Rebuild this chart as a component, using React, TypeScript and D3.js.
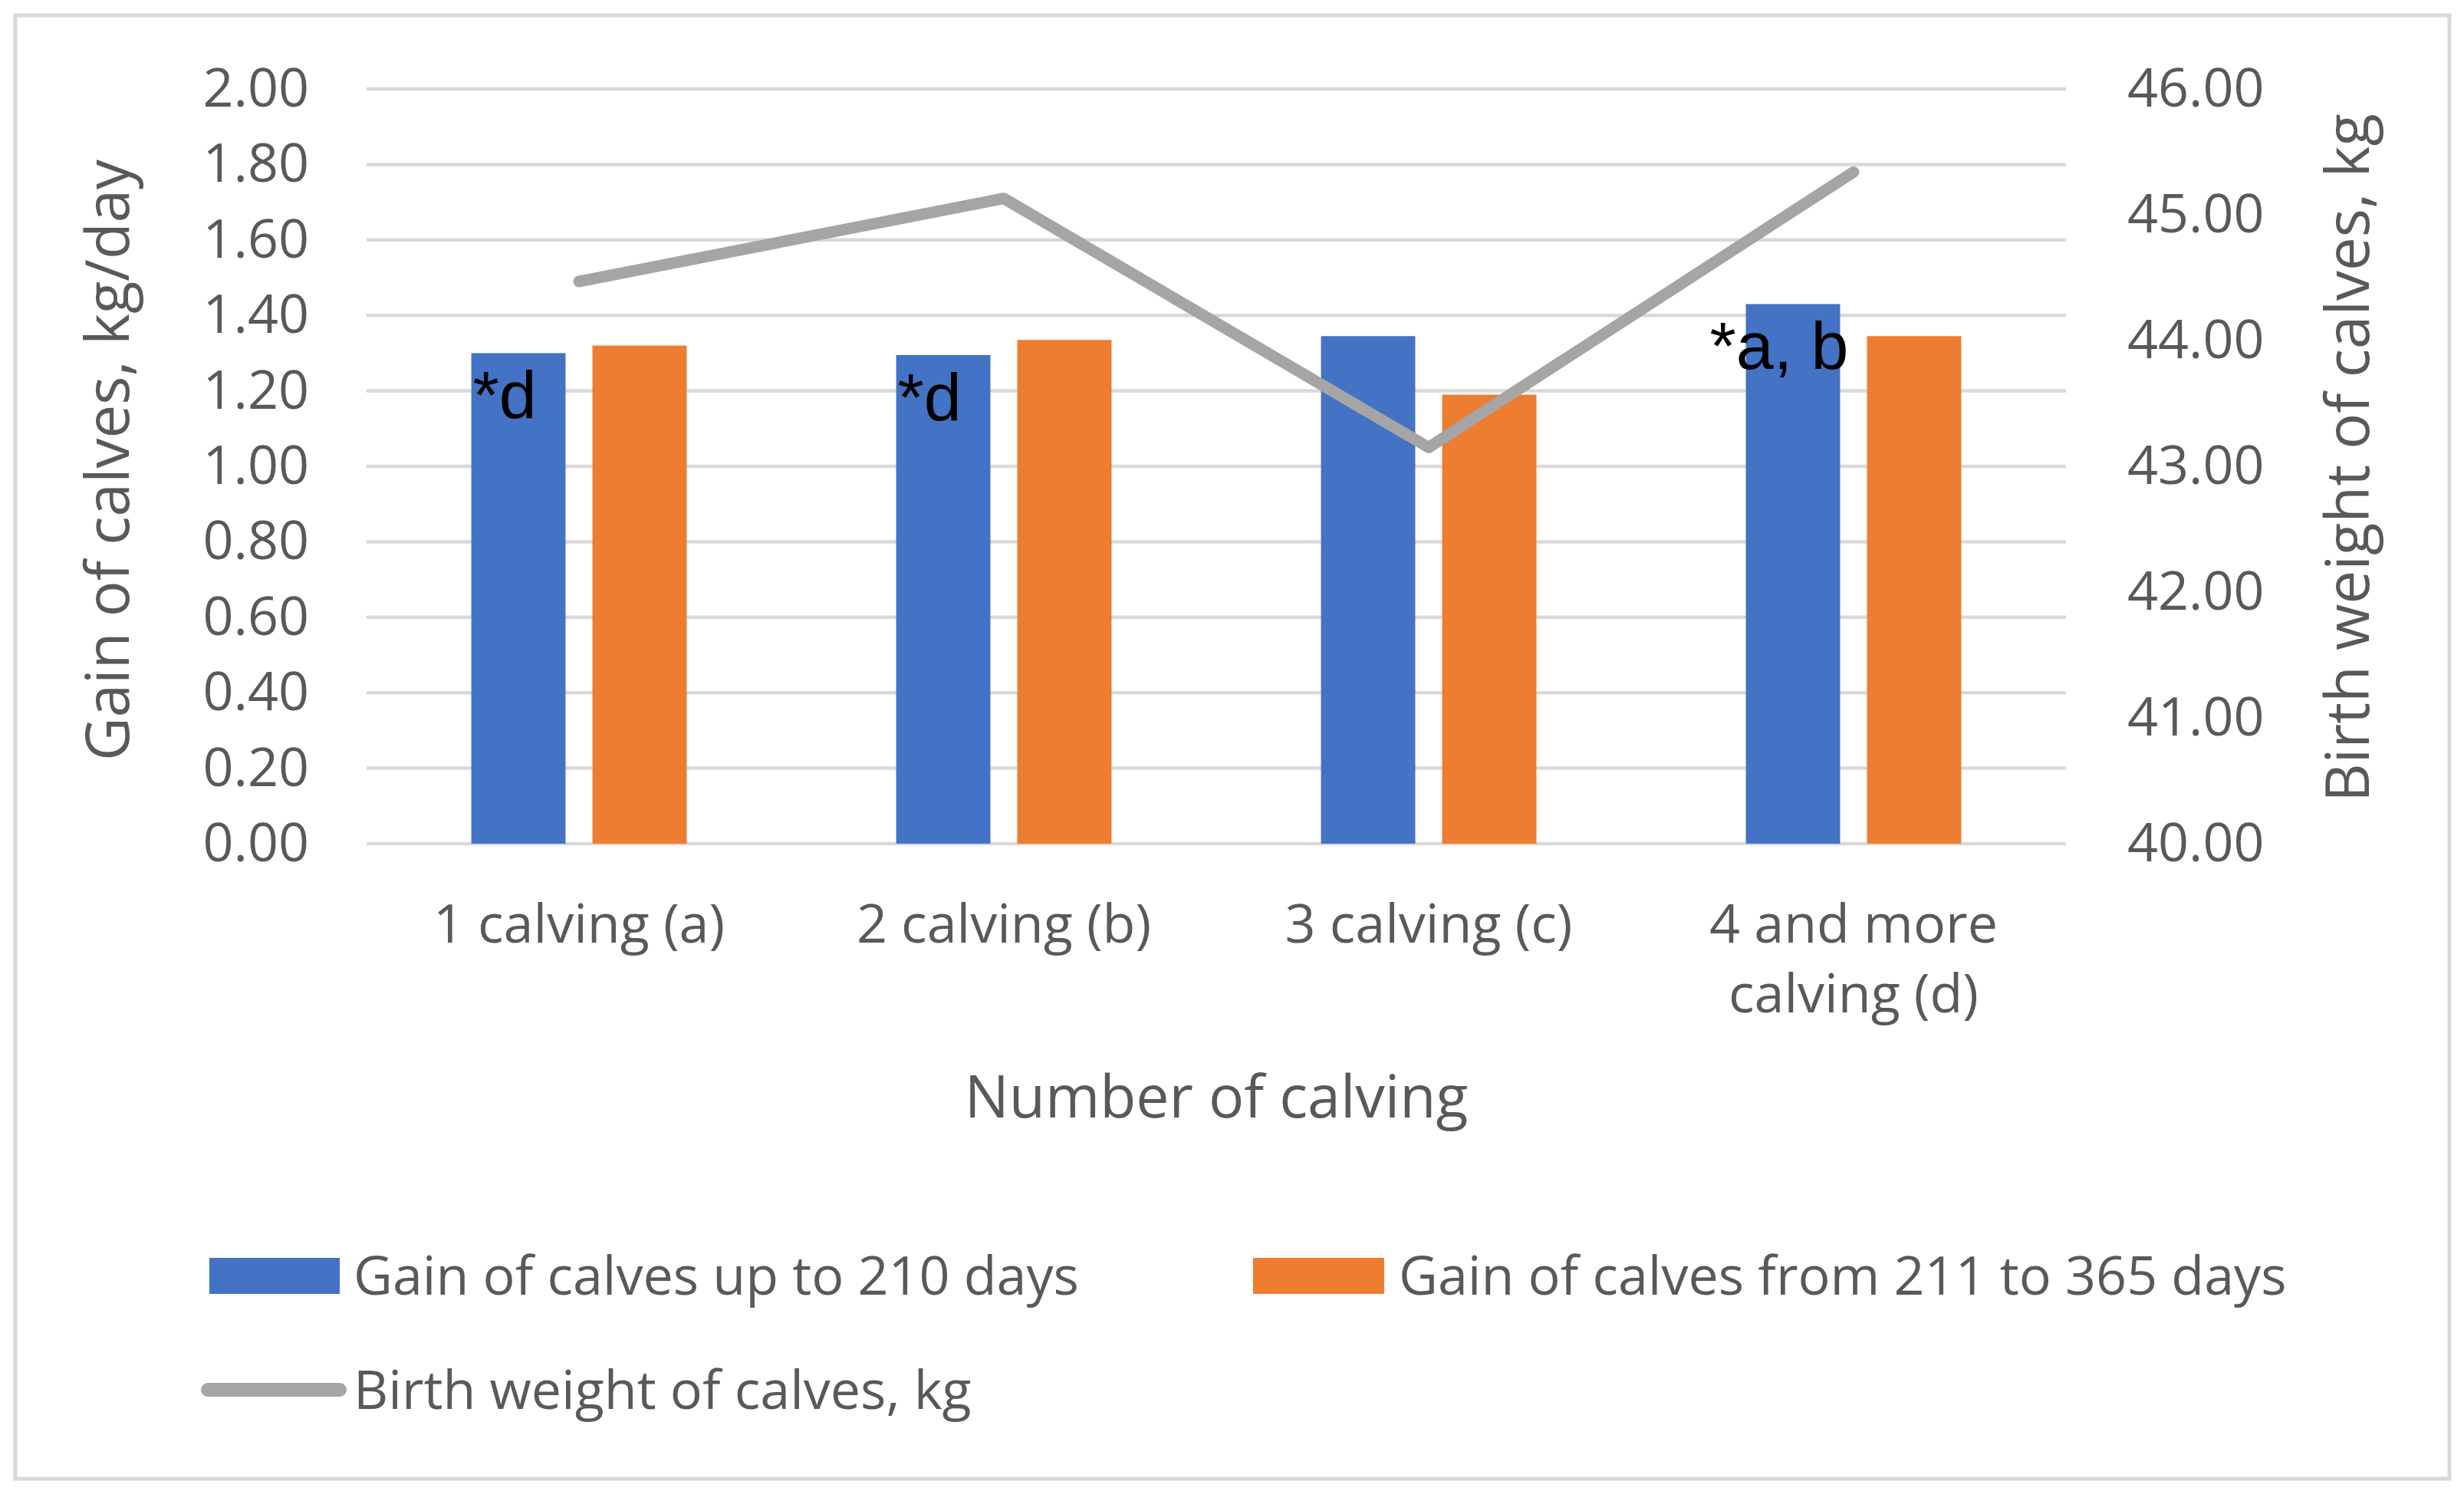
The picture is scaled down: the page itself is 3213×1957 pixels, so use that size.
import { useEffect, useRef } from "react";
import * as d3 from "d3";

const CATEGORIES = ["1 calving (a)", "2 calving (b)", "3 calving (c)", "4 and more calving (d)"];
const GAIN_UP_TO_210 = [1.3, 1.295, 1.345, 1.43];
const GAIN_211_TO_365 = [1.32, 1.335, 1.19, 1.345];
const BIRTH_WEIGHT = [44.47, 45.13, 43.15, 45.34];
const SIGNIFICANCE = ["*d", "*d", "", "*a, b"];
const LEFT_TICKS = [0, 0.2, 0.4, 0.6, 0.8, 1.0, 1.2, 1.4, 1.6, 1.8, 2.0];
const RIGHT_TICKS = [40, 41, 42, 43, 44, 45, 46];
const SERIES = [
  "Gain of calves up to 210 days",
  "Gain of calves from 211 to 365 days",
  "Birth weight of calves, kg",
];

const BLUE = "#4472C4";
const ORANGE = "#ED7D31";
const GREY = "#A5A5A5";
const TEXT = "#595959";
const GRID = "#D9D9D9";
const FONT = "'Open Sans', sans-serif";

export default function App() {
  const svgRef = useRef<SVGSVGElement>(null);

  useEffect(() => {
    if (!svgRef.current) return;
    const W = 3213;
    const H = 1957;
    const left = 478;
    const right = 2694;
    const top = 116;
    const bottom = 1100;

    const svg = d3.select(svgRef.current);
    svg.selectAll("*").remove();
    svg.attr("width", W).attr("height", H).attr("viewBox", `0 0 ${W} ${H}`);

    // chart frame
    svg.append("rect")
      .attr("x", 20).attr("y", 20).attr("width", 3174).attr("height", 1908)
      .attr("fill", "#fff").attr("stroke", GRID).attr("stroke-width", 5);

    const x0 = d3.scaleBand<string>()
      .domain(CATEGORIES)
      .range([left, right])
      .paddingInner(0.493)
      .paddingOuter(0.2465);
    const x1 = d3.scaleBand<string>()
      .domain(["a", "b"])
      .range([0, x0.bandwidth()])
      .paddingInner(0.222);
    const yL = d3.scaleLinear().domain([0, 2]).range([bottom, top]);
    const yR = d3.scaleLinear().domain([40, 46]).range([bottom, top]);

    // gridlines
    svg.append("g").selectAll("line")
      .data(LEFT_TICKS)
      .join("line")
      .attr("x1", left).attr("x2", right)
      .attr("y1", d => yL(d)).attr("y2", d => yL(d))
      .attr("stroke", GRID).attr("stroke-width", 4.5);

    // axes
    const styleAxis = (g: d3.Selection<SVGGElement, unknown, null, undefined>) => {
      g.select(".domain").remove();
      g.selectAll("text")
        .attr("fill", TEXT)
        .attr("font-size", 70)
        .attr("font-family", FONT);
    };
    svg.append("g")
      .attr("transform", `translate(${left},0)`)
      .call(d3.axisLeft(yL).tickValues(LEFT_TICKS).tickSize(0).tickPadding(75).tickFormat(d3.format(".2f")))
      .call(styleAxis);
    svg.append("g")
      .attr("transform", `translate(${right},0)`)
      .call(d3.axisRight(yR).tickValues(RIGHT_TICKS).tickSize(0).tickPadding(80).tickFormat(d3.format(".2f")))
      .call(styleAxis);

    // bars
    const groups = svg.append("g").selectAll("g")
      .data(CATEGORIES)
      .join("g")
      .attr("transform", d => `translate(${x0(d)},0)`);
    groups.append("rect")
      .attr("x", x1("a")!)
      .attr("width", x1.bandwidth())
      .attr("y", (_, i) => yL(GAIN_UP_TO_210[i]))
      .attr("height", (_, i) => bottom - yL(GAIN_UP_TO_210[i]))
      .attr("fill", BLUE);
    groups.append("rect")
      .attr("x", x1("b")!)
      .attr("width", x1.bandwidth())
      .attr("y", (_, i) => yL(GAIN_211_TO_365[i]))
      .attr("height", (_, i) => bottom - yL(GAIN_211_TO_365[i]))
      .attr("fill", ORANGE);

    // birth weight line
    const centre = (c: string) => x0(c)! + x0.bandwidth() / 2;
    const line = d3.line<number>()
      .x((_, i) => centre(CATEGORIES[i]))
      .y(d => yR(d));
    svg.append("path")
      .datum(BIRTH_WEIGHT)
      .attr("d", line)
      .attr("fill", "none")
      .attr("stroke", GREY)
      .attr("stroke-width", 15)
      .attr("stroke-linecap", "round")
      .attr("stroke-linejoin", "round");

    // significance marks
    groups.append("text")
      .attr("x", x1("a")! + x1.bandwidth() / 2 - 18)
      .attr("y", (_, i) => yL(GAIN_UP_TO_210[i]) + 85)
      .attr("text-anchor", "middle")
      .attr("font-family", "'Liberation Sans', Arial, sans-serif")
      .attr("font-size", 88)
      .attr("fill", "#000")
      .text((_, i) => SIGNIFICANCE[i]);

    // category labels, wrapped to the band width
    const step = x0.step();
    CATEGORIES.forEach(c => {
      const t = svg.append("text")
        .attr("x", centre(c))
        .attr("y", 1229)
        .attr("text-anchor", "middle")
        .attr("font-family", FONT)
        .attr("font-size", 70)
        .attr("fill", TEXT);
      const words = c.split(" ");
      let lineWords: string[] = [];
      let lineNo = 0;
      let tspan = t.append("tspan").attr("x", centre(c)).attr("dy", 0);
      words.forEach(w => {
        lineWords.push(w);
        tspan.text(lineWords.join(" "));
        if ((tspan.node() as SVGTSpanElement).getComputedTextLength() > step && lineWords.length > 1) {
          lineWords.pop();
          tspan.text(lineWords.join(" "));
          lineWords = [w];
          lineNo++;
          tspan = t.append("tspan").attr("x", centre(c)).attr("dy", 91).text(w);
        }
      });
    });

    // axis titles
    svg.append("text")
      .attr("x", (left + right) / 2).attr("y", 1457)
      .attr("text-anchor", "middle")
      .attr("font-family", FONT).attr("font-size", 77).attr("fill", TEXT)
      .text("Number of calving");
    svg.append("text")
      .attr("transform", "translate(168,600) rotate(-90)")
      .attr("text-anchor", "middle")
      .attr("font-family", FONT).attr("font-size", 78).attr("fill", TEXT)
      .text("Gain of calves, kg/day");
    svg.append("text")
      .attr("transform", "translate(3089,597) rotate(-90)")
      .attr("text-anchor", "middle")
      .attr("font-family", FONT).attr("font-size", 78).attr("fill", TEXT)
      .text("Birth weight of calves, kg");

    // legend
    const legend = svg.append("g");
    legend.append("rect").attr("x", 273).attr("y", 1640).attr("width", 170).attr("height", 47).attr("fill", BLUE);
    legend.append("rect").attr("x", 1634).attr("y", 1640).attr("width", 171).attr("height", 47).attr("fill", ORANGE);
    legend.append("line")
      .attr("x1", 271).attr("x2", 443).attr("y1", 1812).attr("y2", 1812)
      .attr("stroke", GREY).attr("stroke-width", 18).attr("stroke-linecap", "round");
    const legendPos: [number, number][] = [[461, 1663], [1824, 1663], [461, 1812]];
    legend.selectAll("text.lg")
      .data(SERIES)
      .join("text")
      .attr("class", "lg")
      .attr("x", (_, i) => legendPos[i][0])
      .attr("y", (_, i) => legendPos[i][1])
      .attr("dy", "0.35em")
      .attr("font-family", FONT).attr("font-size", 70).attr("fill", TEXT)
      .text(d => d);
  }, []);

  return (
    <svg
      ref={svgRef}
      style={{ position: "absolute", left: 0, top: 0, background: "#fff" }}
    />
  );
}
